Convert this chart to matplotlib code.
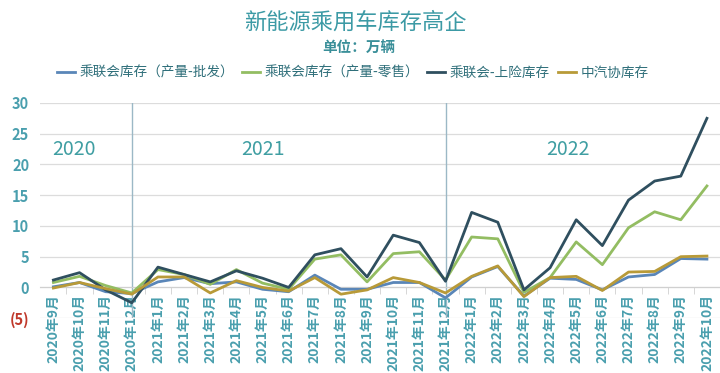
import matplotlib
matplotlib.use("Agg")
import matplotlib.pyplot as plt

plt.rcParams['font.family'] = ['Noto Sans CJK SC', 'DejaVu Sans']

months = ['2020年9月', '2020年10月', '2020年11月', '2020年12月',
          '2021年1月', '2021年2月', '2021年3月', '2021年4月', '2021年5月', '2021年6月',
          '2021年7月', '2021年8月', '2021年9月', '2021年10月', '2021年11月', '2021年12月',
          '2022年1月', '2022年2月', '2022年3月', '2022年4月', '2022年5月', '2022年6月',
          '2022年7月', '2022年8月', '2022年9月', '2022年10月']

pifa = [0.1, 0.8, -0.7, -1.0, 0.9, 1.6, 0.6, 0.9, -0.3, -0.7, 2.0, -0.3, -0.3,
        0.8, 0.8, -1.7, 1.7, 3.4, -1.4, 1.5, 1.3, -0.4, 1.7, 2.1, 4.7, 4.6]
lingshou = [0.8, 1.8, 0.3, -0.9, 2.9, 2.1, 0.5, 2.9, 0.7, -0.3, 4.6, 5.3, 0.9,
            5.5, 5.8, 1.2, 8.2, 7.9, -0.8, 1.6, 7.4, 3.7, 9.7, 12.3, 11.0, 16.5]
shangxian = [1.2, 2.4, -0.4, -2.5, 3.3, 2.1, 0.9, 2.7, 1.5, 0.0, 5.3, 6.3, 1.7,
             8.5, 7.3, 1.0, 12.2, 10.6, -0.4, 3.2, 11.0, 6.8, 14.2, 17.3, 18.1, 27.5]
zhongqixie = [-0.1, 0.8, -0.2, -1.1, 1.7, 1.7, -0.9, 1.1, 0.0, -0.6, 1.6, -1.1, -0.4,
              1.6, 0.8, -0.9, 1.8, 3.5, -1.5, 1.6, 1.8, -0.5, 2.5, 2.6, 5.0, 5.1]

series_names = ['乘联会库存（产量-批发）', '乘联会库存（产量-零售）', '乘联会-上险库存', '中汽协库存']
colors = ['#5a86b8', '#93bd62', '#2f4f5f', '#b89a38']

yticks = [-5, 0, 5, 10, 15, 20, 25, 30]
ylabels = ['(5)', '0', '5', '10', '15', '20', '25', '30']
years = ['2020', '2021', '2022']
year_pos = [0.8, 8, 19.7]
year_lines = [3, 15]

teal = '#4a9fae'

fig = plt.figure(figsize=(7.2, 3.73), dpi=100)
ax = fig.add_axes([0.056, 0.147, 0.944, 0.577])

x = list(range(len(months)))
for vals, name, c in zip([pifa, lingshou, shangxian, zhongqixie], series_names, colors):
    ax.plot(x, vals, color=c, lw=2, label=name, zorder=3)

for xl in year_lines:
    ax.axvline(xl, color='#9bb8c6', lw=1, zorder=2)

for yr, xp in zip(years, year_pos):
    ax.text(xp, 22.5, yr, color='#3f9ea2', fontsize=14, ha='center', va='center')

ax.set_xlim(-0.5, len(months) - 0.5)
ax.set_ylim(-5, 30)
ax.set_yticks(yticks)
ax.set_yticklabels(ylabels)
for lab in ax.get_yticklabels():
    lab.set_color('#c0392b' if lab.get_text() == '(5)' else teal)
    lab.set_fontweight('bold')
    lab.set_fontsize(10.5)
ax.grid(axis='y', color='#dcdcdc', lw=0.9, zorder=1)

ax.spines['bottom'].set_position(('data', 0))
ax.spines['bottom'].set_color('#d0d0d0')
for s in ['top', 'right', 'left']:
    ax.spines[s].set_visible(False)
ax.set_xticks(x)
ax.set_xticklabels(months, rotation=90, fontsize=10, fontweight='bold', color=teal)
ax.set_xticks([i + 0.5 for i in x[:-1]], minor=True)
ax.tick_params(axis='x', which='major', length=0, pad=5)
ax.tick_params(axis='x', which='minor', length=5, color='#d0d0d0')
ax.tick_params(axis='y', length=0, pad=8)

fig.text(0.493, 0.94, '新能源乘用车库存高企', ha='center', va='center',
         fontsize=16, color='#3c9aa5')
fig.text(0.498, 0.875, '单位：万辆', ha='center', va='center',
         fontsize=10.5, fontweight='bold', color='#3a8f99')
fig.legend(loc='center', bbox_to_anchor=(0.49, 0.805), ncol=4, frameon=False,
           fontsize=9.8, handlelength=1.3, handletextpad=0.35, columnspacing=0.6,
           labelcolor='#2f6f7a')

fig.savefig('out.png', dpi=100)
